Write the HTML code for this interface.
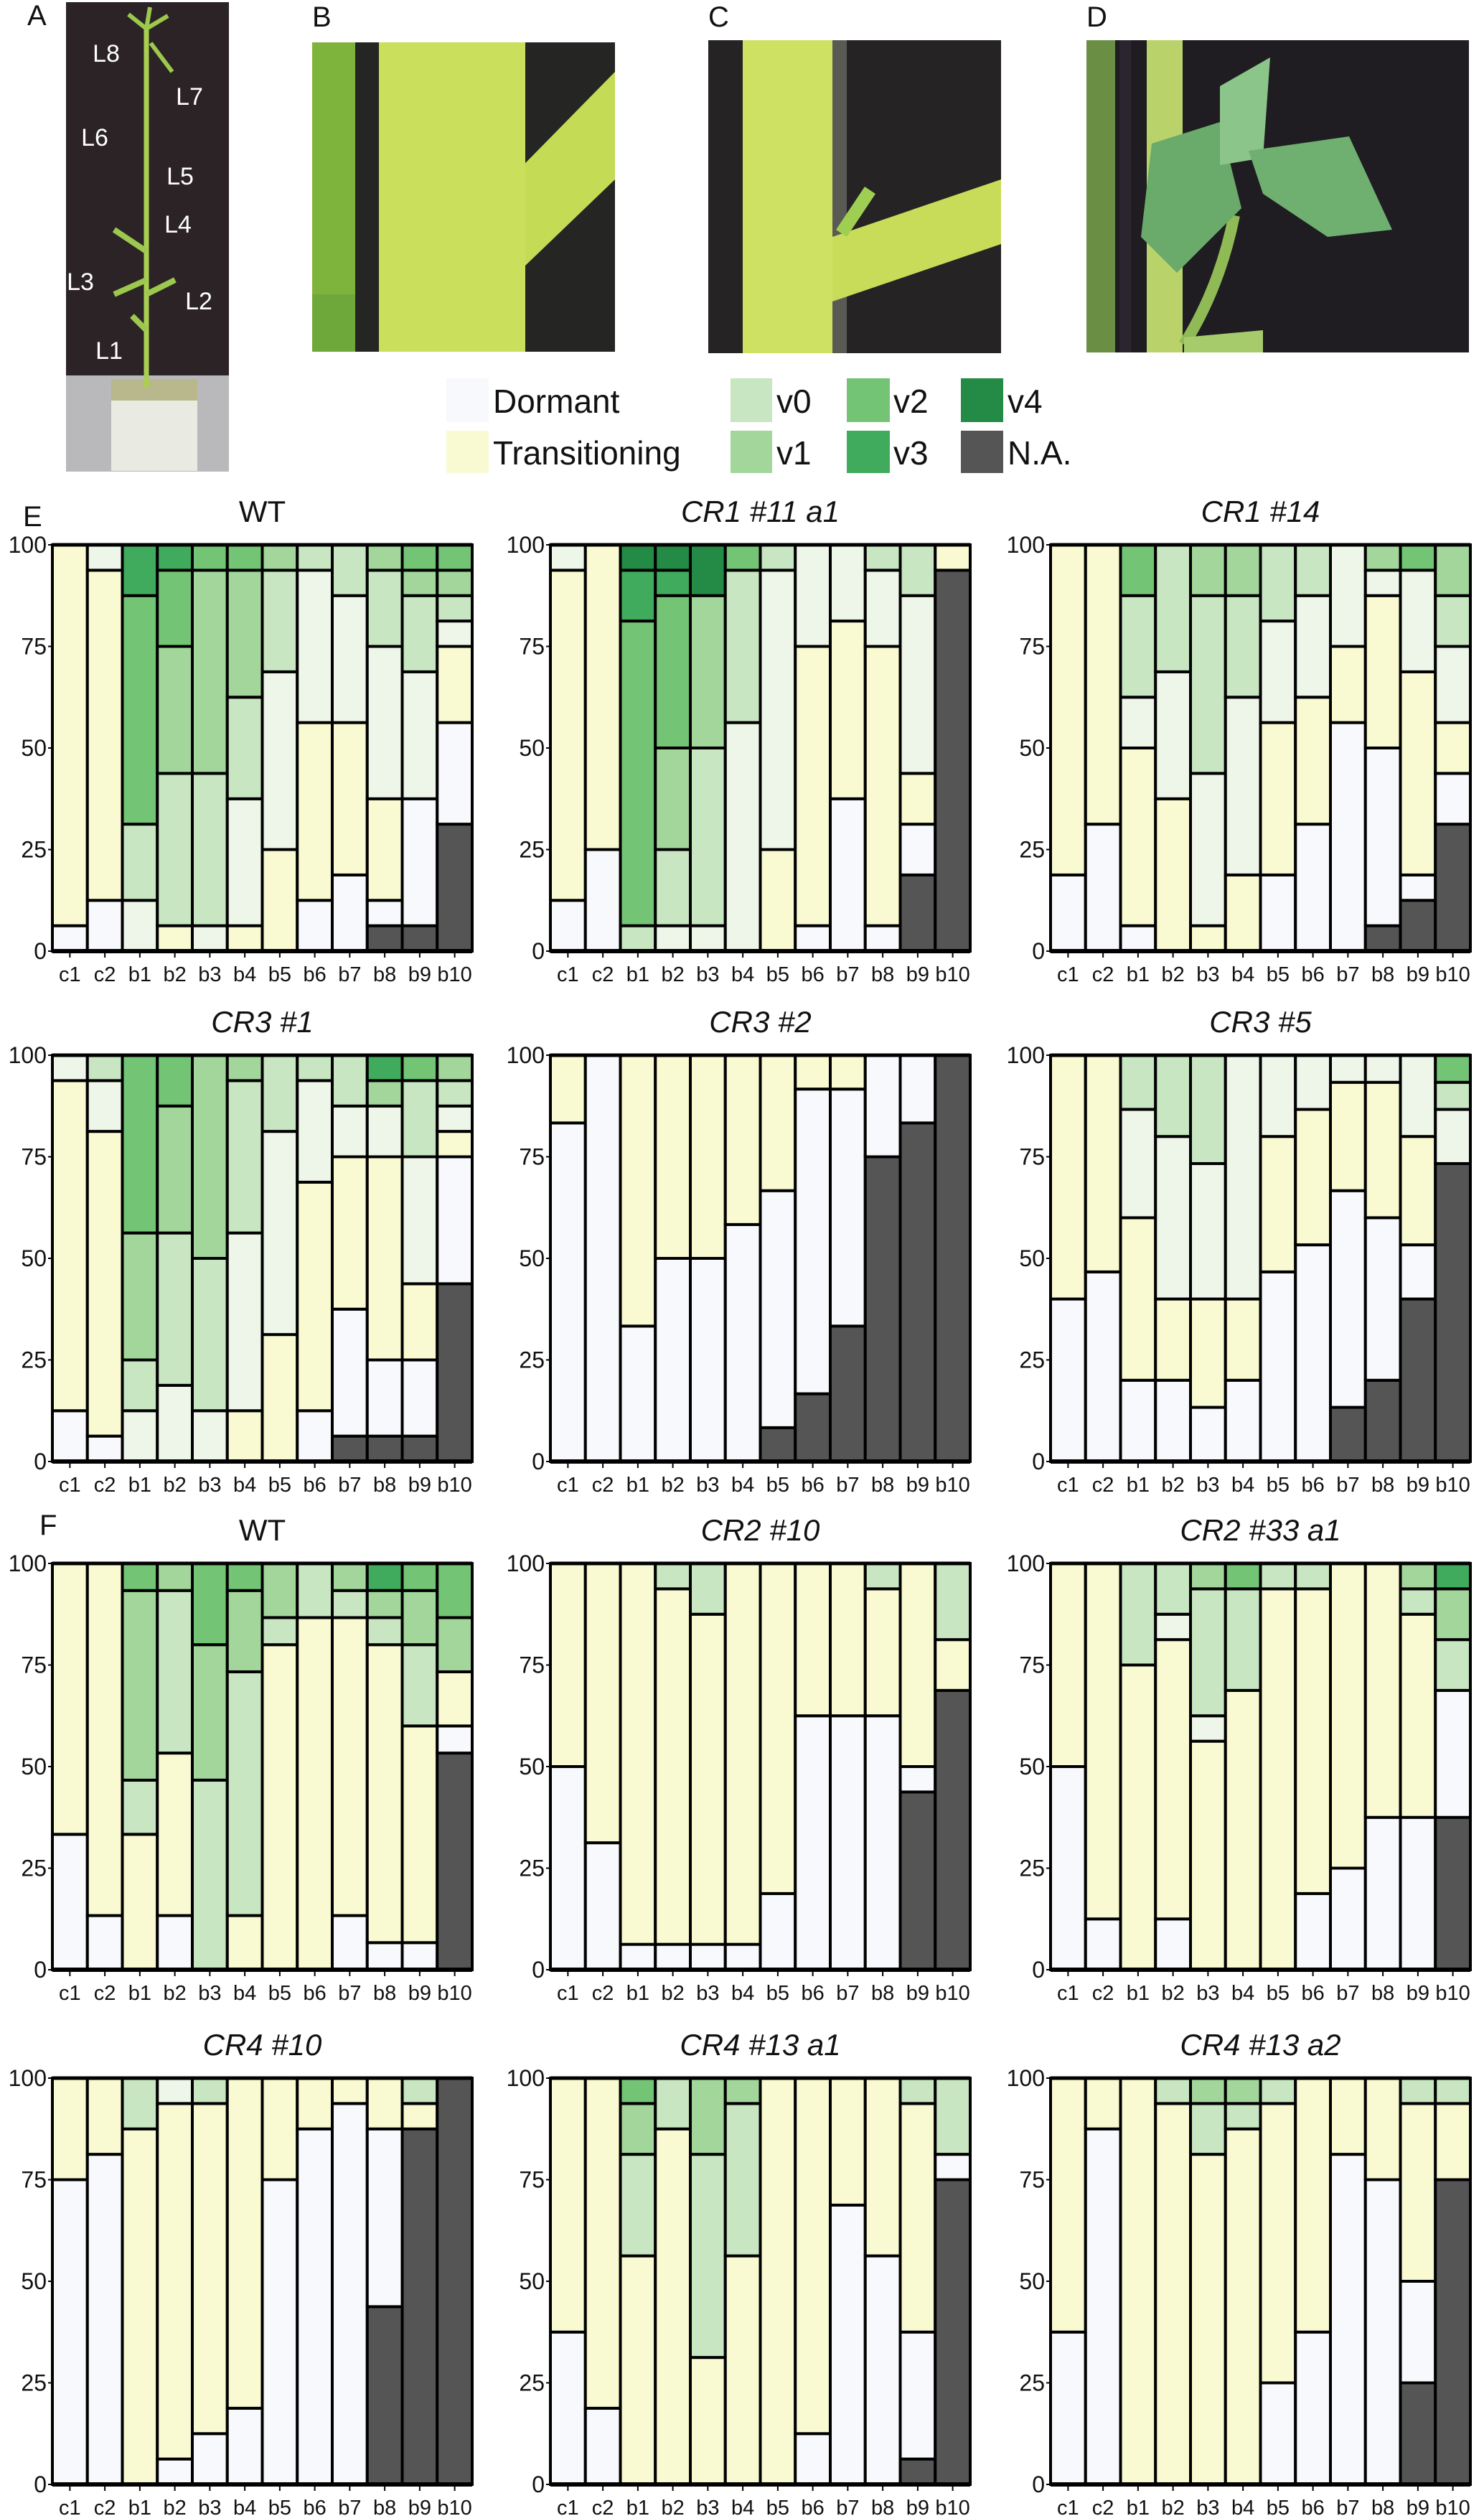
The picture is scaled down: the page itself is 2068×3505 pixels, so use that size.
<!DOCTYPE html>
<html><head><meta charset="utf-8">
<style>
html,body{margin:0;padding:0;background:#fff;}
svg{display:block;font-family:"Liberation Sans",sans-serif;}
</style></head>
<body>
<svg id="fig" width="2068" height="3505" viewBox="0 0 2068 3505" xmlns="http://www.w3.org/2000/svg">
  <!-- Panel A -->
  <g>
    <rect x="92" y="3" width="227" height="522" fill="#2b2326"/>
    <rect x="92" y="523" width="227" height="134" fill="#b9b9bb"/>
    <rect x="155" y="528" width="120" height="128" fill="#e9eae2"/>
    <rect x="155" y="528" width="120" height="30" fill="#b8b88c"/>
    <line x1="204" y1="540" x2="204" y2="40" stroke="#a9cf52" stroke-width="7"/>
    <path d="M204 40 l-25 -20 M204 40 l30 -18 M204 40 l5 -30 M210 60 l30 40" stroke="#9cc84e" stroke-width="6" fill="none"/>
    <path d="M204 350 l-45 -30 M204 390 l-45 20 M204 410 l40 -20 M204 460 l-20 -20" stroke="#9cc84e" stroke-width="8" fill="none"/>
    <g fill="#fff" font-size="34" text-anchor="middle">
      <text x="148" y="86">L8</text>
      <text x="264" y="146">L7</text>
      <text x="132" y="203">L6</text>
      <text x="251" y="257">L5</text>
      <text x="248" y="324">L4</text>
      <text x="112" y="404">L3</text>
      <text x="277" y="431">L2</text>
      <text x="152" y="500">L1</text>
    </g>
  </g>
  <!-- Panel B -->
  <g>
    <rect x="435" y="59" width="422" height="431" fill="#252523"/>
    <rect x="435" y="59" width="60" height="380" fill="#7fb43c"/>
    <path d="M690 270 L857 100 L857 250 L732 370 Z" fill="#c4dc55"/>
    <rect x="528" y="59" width="204" height="431" fill="#cadf5c"/>
    <rect x="435" y="410" width="60" height="80" fill="#6fa83a"/>
  </g>
  <!-- Panel C -->
  <g>
    <rect x="987" y="56" width="408" height="436" fill="#262324"/>
    <rect x="1150" y="56" width="30" height="436" fill="#5a5a55"/>
    <path d="M1160 330 L1395 250 L1395 340 L1160 420 Z" fill="#c8dc5a"/>
    <path d="M1165 320 l40 -60 l15 10 l-40 60 Z" fill="#9fcf52"/>
    <rect x="1035" y="56" width="125" height="436" fill="#cfe163"/>
  </g>
  <!-- Panel D -->
  <g>
    <rect x="1514" y="56" width="533" height="435" fill="#1f1c22"/>
    <rect x="1514" y="56" width="40" height="435" fill="#6b8e45"/>
    <rect x="1560" y="56" width="16" height="435" fill="#2b2530"/>
    <rect x="1598" y="56" width="50" height="435" fill="#b9d36a"/>
    <path d="M1650 480 Q1700 400 1720 300" stroke="#8fba55" stroke-width="16" fill="none"/>
    <path d="M1605 200 L1700 170 L1730 290 L1640 380 L1590 330 Z" fill="#6aaa6a"/>
    <path d="M1700 120 L1770 80 L1760 220 L1700 230 Z" fill="#8cc58a"/>
    <path d="M1740 210 L1880 190 L1940 320 L1850 330 L1760 270 Z" fill="#6faf6f"/>
    <path d="M1650 470 L1760 460 L1760 491 L1650 491 Z" fill="#a6cb6b"/>
  </g>
  <g font-size="40" fill="#111">
    <text x="38" y="35">A</text>
    <text x="435" y="37">B</text>
    <text x="987" y="37">C</text>
    <text x="1514" y="37">D</text>
    <text x="32" y="733">E</text>
    <text x="55" y="2138">F</text>
  </g>
  <!-- Legend -->
  <g font-size="46" fill="#111">
    <g><rect x="622" y="527" width="59" height="61" fill="#f8f9fc"/><text x="687" y="575">Dormant</text></g>
    <g><rect x="622" y="600" width="59" height="59" fill="#fafad2"/><text x="687" y="647">Transitioning</text></g>
    <g><rect x="1018" y="527" width="58" height="61" fill="#c7e6c1"/><text x="1082" y="575">v0</text></g>
    <g><rect x="1018" y="600" width="58" height="59" fill="#a3d69b"/><text x="1082" y="647">v1</text></g>
    <g><rect x="1180" y="527" width="60" height="61" fill="#74c476"/><text x="1245" y="575">v2</text></g>
    <g><rect x="1180" y="600" width="60" height="59" fill="#41ab5d"/><text x="1245" y="647">v3</text></g>
    <g><rect x="1339" y="527" width="59" height="61" fill="#238b45"/><text x="1404" y="575">v4</text></g>
    <g><rect x="1339" y="600" width="59" height="59" fill="#555555"/><text x="1404" y="647">N.A.</text></g>
  </g>
  <g id="charts"></g>
</svg>
<script>
const categories = ["c1","c2","b1","b2","b3","b4","b5","b6","b7","b8","b9","b10"];
const yTicks = [0,25,50,75,100];
// E WT
const eWT_na  = [0,0,0,0,0,0,0,0,0,6.25,6.25,31.25];
const eWT_dor = [6.25,12.5,0,0,0,0,0,12.5,18.75,6.25,31.25,25];
const eWT_tra = [93.75,81.25,0,6.25,0,6.25,25,43.75,37.5,25,0,18.75];
const eWT_g0  = [0,6.25,12.5,0,6.25,31.25,43.75,37.5,31.25,37.5,31.25,6.25];
const eWT_v0  = [0,0,18.75,37.5,37.5,25,25,6.25,12.5,18.75,18.75,6.25];
const eWT_v1  = [0,0,0,31.25,50,31.25,6.25,0,0,6.25,6.25,6.25];
const eWT_v2  = [0,0,56.25,18.75,6.25,6.25,0,0,0,0,6.25,6.25];
const eWT_v3  = [0,0,12.5,6.25,0,0,0,0,0,0,0,0];
// CR1 #11 a1
const cr111_na  = [0,0,0,0,0,0,0,0,0,0,18.75,93.75];
const cr111_dor = [12.5,25,0,0,0,0,0,6.25,37.5,6.25,12.5,0];
const cr111_tra = [81.25,75,0,0,0,0,25,68.75,43.75,68.75,12.5,6.25];
const cr111_g0  = [6.25,0,0,6.25,6.25,56.25,68.75,25,18.75,18.75,43.75,0];
const cr111_v0  = [0,0,6.25,18.75,43.75,37.5,6.25,0,0,6.25,12.5,0];
const cr111_v1  = [0,0,0,25,37.5,0,0,0,0,0,0,0];
const cr111_v2  = [0,0,75,37.5,0,6.25,0,0,0,0,0,0];
const cr111_v3  = [0,0,12.5,6.25,0,0,0,0,0,0,0,0];
const cr111_v4  = [0,0,6.25,6.25,12.5,0,0,0,0,0,0,0];
// CR1 #14
const cr114_na  = [0,0,0,0,0,0,0,0,0,6.25,12.5,31.25];
const cr114_dor = [18.75,31.25,6.25,0,0,0,18.75,31.25,56.25,43.75,6.25,12.5];
const cr114_tra = [81.25,68.75,43.75,37.5,6.25,18.75,37.5,31.25,18.75,37.5,50,12.5];
const cr114_g0  = [0,0,12.5,31.25,37.5,43.75,25,25,25,6.25,25,18.75];
const cr114_v0  = [0,0,25,31.25,43.75,25,18.75,12.5,0,0,0,12.5];
const cr114_v1  = [0,0,0,0,12.5,12.5,0,0,0,6.25,0,12.5];
const cr114_v2  = [0,0,12.5,0,0,0,0,0,0,0,6.25,0];
// CR3 #1
const cr31_na  = [0,0,0,0,0,0,0,0,6.25,6.25,6.25,43.75];
const cr31_dor = [12.5,6.25,0,0,0,0,0,12.5,31.25,18.75,18.75,31.25];
const cr31_tra = [81.25,75,0,0,0,12.5,31.25,56.25,37.5,50,18.75,6.25];
const cr31_g0  = [6.25,12.5,12.5,18.75,12.5,43.75,50,25,12.5,12.5,31.25,6.25];
const cr31_v0  = [0,6.25,12.5,37.5,37.5,37.5,18.75,6.25,12.5,0,18.75,6.25];
const cr31_v1  = [0,0,31.25,31.25,50,6.25,0,0,0,6.25,0,6.25];
const cr31_v2  = [0,0,43.75,12.5,0,0,0,0,0,0,6.25,0];
const cr31_v3  = [0,0,0,0,0,0,0,0,0,6.25,0,0];
// CR3 #2
const cr32_na  = [0,0,0,0,0,0,8.33,16.67,33.33,75,83.33,100];
const cr32_dor = [83.33,100,33.33,50,50,58.33,58.33,75,58.33,25,16.67,0];
const cr32_tra = [16.67,0,66.67,50,50,41.67,33.33,8.33,8.33,0,0,0];
// CR3 #5
const cr35_na  = [0,0,0,0,0,0,0,0,13.33,20,40,73.33];
const cr35_dor = [40,46.67,20,20,13.33,20,46.67,53.33,53.33,40,13.33,0];
const cr35_tra = [60,53.33,40,20,26.67,20,33.33,33.33,26.67,33.33,26.67,0];
const cr35_g0  = [0,0,26.67,40,33.33,60,20,13.33,6.67,6.67,20,13.33];
const cr35_v0  = [0,0,13.33,20,26.67,0,0,0,0,0,0,6.67];
const cr35_v2  = [0,0,0,0,0,0,0,0,0,0,0,6.67];
// F WT
const fWT_na  = [0,0,0,0,0,0,0,0,0,0,0,53.33];
const fWT_dor = [33.33,13.33,0,13.33,0,0,0,0,13.33,6.67,6.67,6.67];
const fWT_tra = [66.67,86.67,33.33,40,0,13.33,80,86.67,73.33,73.33,53.33,13.33];
const fWT_v0  = [0,0,13.33,40,46.67,60,6.67,13.33,6.67,6.67,20,0];
const fWT_v1  = [0,0,46.67,6.67,33.33,20,13.33,0,6.67,6.67,13.33,13.33];
const fWT_v2  = [0,0,6.67,0,20,6.67,0,0,0,0,6.67,13.33];
const fWT_v3  = [0,0,0,0,0,0,0,0,0,6.67,0,0];
// CR2 #10
const cr210_na  = [0,0,0,0,0,0,0,0,0,0,43.75,68.75];
const cr210_dor = [50,31.25,6.25,6.25,6.25,6.25,18.75,62.5,62.5,62.5,6.25,0];
const cr210_tra = [50,68.75,93.75,87.5,81.25,93.75,81.25,37.5,37.5,31.25,50,12.5];
const cr210_v0  = [0,0,0,6.25,12.5,0,0,0,0,6.25,0,18.75];
// CR2 #33 a1
const cr233_na  = [0,0,0,0,0,0,0,0,0,0,0,37.5];
const cr233_dor = [50,12.5,0,12.5,0,0,0,18.75,25,37.5,37.5,31.25];
const cr233_tra = [50,87.5,75,68.75,56.25,68.75,93.75,75,75,62.5,50,0];
const cr233_g0  = [0,0,0,6.25,6.25,0,0,0,0,0,0,0];
const cr233_v0  = [0,0,25,12.5,31.25,25,6.25,6.25,0,0,6.25,12.5];
const cr233_v1  = [0,0,0,0,6.25,0,0,0,0,0,6.25,12.5];
const cr233_v2  = [0,0,0,0,0,6.25,0,0,0,0,0,0];
const cr233_v3  = [0,0,0,0,0,0,0,0,0,0,0,6.25];
// CR4 #10
const cr410_na  = [0,0,0,0,0,0,0,0,0,43.75,87.5,100];
const cr410_dor = [75,81.25,0,6.25,12.5,18.75,75,87.5,93.75,43.75,0,0];
const cr410_tra = [25,18.75,87.5,87.5,81.25,81.25,25,12.5,6.25,12.5,6.25,0];
const cr410_g0  = [0,0,0,6.25,0,0,0,0,0,0,0,0];
const cr410_v0  = [0,0,12.5,0,6.25,0,0,0,0,0,6.25,0];
// CR4 #13 a1
const cr4131_na  = [0,0,0,0,0,0,0,0,0,0,6.25,75];
const cr4131_dor = [37.5,18.75,0,0,0,0,0,12.5,68.75,56.25,31.25,6.25];
const cr4131_tra = [62.5,81.25,56.25,87.5,31.25,56.25,100,87.5,31.25,43.75,56.25,0];
const cr4131_v0  = [0,0,25,12.5,50,37.5,0,0,0,0,6.25,18.75];
const cr4131_v1  = [0,0,12.5,0,18.75,6.25,0,0,0,0,0,0];
const cr4131_v2  = [0,0,6.25,0,0,0,0,0,0,0,0,0];
// CR4 #13 a2
const cr4132_na  = [0,0,0,0,0,0,0,0,0,0,25,75];
const cr4132_dor = [37.5,87.5,0,0,0,0,25,37.5,81.25,75,25,0];
const cr4132_tra = [62.5,12.5,100,93.75,81.25,87.5,68.75,62.5,18.75,25,43.75,18.75];
const cr4132_v0  = [0,0,0,6.25,12.5,6.25,6.25,0,0,0,6.25,6.25];
const cr4132_v1  = [0,0,0,0,6.25,6.25,0,0,0,0,0,0];

const colors = {na:"#555555",dor:"#f8f9fc",tra:"#fafad2",g0:"#eef6e9",v0:"#c7e6c1",v1:"#a3d69b",v2:"#74c476",v3:"#41ab5d",v4:"#238b45"};
const order = ["na","dor","tra","g0","v0","v1","v2","v3","v4"];

const charts = [
 {id:"e-wt",title:"WT",it:false,col:0,row:0,s:{na:eWT_na,dor:eWT_dor,tra:eWT_tra,g0:eWT_g0,v0:eWT_v0,v1:eWT_v1,v2:eWT_v2,v3:eWT_v3}},
 {id:"cr1-11-a1",title:"CR1 #11 a1",it:true,col:1,row:0,s:{na:cr111_na,dor:cr111_dor,tra:cr111_tra,g0:cr111_g0,v0:cr111_v0,v1:cr111_v1,v2:cr111_v2,v3:cr111_v3,v4:cr111_v4}},
 {id:"cr1-14",title:"CR1 #14",it:true,col:2,row:0,s:{na:cr114_na,dor:cr114_dor,tra:cr114_tra,g0:cr114_g0,v0:cr114_v0,v1:cr114_v1,v2:cr114_v2}},
 {id:"cr3-1",title:"CR3 #1",it:true,col:0,row:1,s:{na:cr31_na,dor:cr31_dor,tra:cr31_tra,g0:cr31_g0,v0:cr31_v0,v1:cr31_v1,v2:cr31_v2,v3:cr31_v3}},
 {id:"cr3-2",title:"CR3 #2",it:true,col:1,row:1,s:{na:cr32_na,dor:cr32_dor,tra:cr32_tra}},
 {id:"cr3-5",title:"CR3 #5",it:true,col:2,row:1,s:{na:cr35_na,dor:cr35_dor,tra:cr35_tra,g0:cr35_g0,v0:cr35_v0,v2:cr35_v2}},
 {id:"f-wt",title:"WT",it:false,col:0,row:2,s:{na:fWT_na,dor:fWT_dor,tra:fWT_tra,v0:fWT_v0,v1:fWT_v1,v2:fWT_v2,v3:fWT_v3}},
 {id:"cr2-10",title:"CR2 #10",it:true,col:1,row:2,s:{na:cr210_na,dor:cr210_dor,tra:cr210_tra,v0:cr210_v0}},
 {id:"cr2-33-a1",title:"CR2 #33 a1",it:true,col:2,row:2,s:{na:cr233_na,dor:cr233_dor,tra:cr233_tra,g0:cr233_g0,v0:cr233_v0,v1:cr233_v1,v2:cr233_v2,v3:cr233_v3}},
 {id:"cr4-10",title:"CR4 #10",it:true,col:0,row:3,s:{na:cr410_na,dor:cr410_dor,tra:cr410_tra,g0:cr410_g0,v0:cr410_v0}},
 {id:"cr4-13-a1",title:"CR4 #13 a1",it:true,col:1,row:3,s:{na:cr4131_na,dor:cr4131_dor,tra:cr4131_tra,v0:cr4131_v0,v1:cr4131_v1,v2:cr4131_v2}},
 {id:"cr4-13-a2",title:"CR4 #13 a2",it:true,col:2,row:3,s:{na:cr4132_na,dor:cr4132_dor,tra:cr4132_tra,v0:cr4132_v0,v1:cr4132_v1}}
];

const NS="http://www.w3.org/2000/svg";
const colX=[73,767,1464], rowY=[759,1470,2178,2895];
const PW=585, PH=566;
function mk(tag,attrs,parent){const e=document.createElementNS(NS,tag);for(const k in attrs)e.setAttribute(k,attrs[k]);parent.appendChild(e);return e;}
const root=document.getElementById("charts");
charts.forEach(c=>{
  const x0=colX[c.col], y0=rowY[c.row];
  const bw=PW/categories.length;
  const xs=i=>x0+i*bw;
  const ys=v=>y0+PH-(v/100)*PH;
  const g=mk("g",{},root);
  
  
  const t=mk("text",{x:x0+PW/2,y:y0-32,"text-anchor":"middle","font-size":"42","font-style":c.it?"italic":"normal",fill:"#111"},g);
  t.textContent=c.title;
  
  
  categories.forEach((cat,i)=>{
    let cum=0;
    const bg=mk("g",{},g);
    
    
    order.forEach(k=>{
      const arr=c.s[k]; if(!arr) return;
      const v=arr[i]; if(!v) return;
      const r=mk("rect",{x:xs(i),y:ys(cum+v),width:bw,height:ys(cum)-ys(cum+v),fill:colors[k],stroke:"#000","stroke-width":"4"},bg);
      
      
      cum+=v;
    });
    const tk=mk("line",{x1:xs(i)+bw/2,x2:xs(i)+bw/2,y1:y0+PH,y2:y0+PH+9,stroke:"#000","stroke-width":"2"},g);
    
    
    const lb=mk("text",{x:xs(i)+bw/2,y:y0+PH+42,"text-anchor":"middle","font-size":"29",fill:"#111"},g);
    lb.textContent=cat;
    
    
  });
  const bt=mk("line",{x1:x0,x2:x0+PW,y1:y0+PH,y2:y0+PH,stroke:"#000","stroke-width":"6"},g);
  
  
  const tp=mk("line",{x1:x0,x2:x0+PW,y1:y0,y2:y0,stroke:"#000","stroke-width":"5"},g);
  
  
  yTicks.forEach(v=>{
    const yl=mk("line",{x1:x0-6,x2:x0,y1:ys(v),y2:ys(v),stroke:"#000","stroke-width":"2"},g);
    
    
    const yt=mk("text",{x:x0-8,y:ys(v)+11,"text-anchor":"end","font-size":"32",fill:"#111"},g);
    yt.textContent=v;
    
    
  });
});
</script>
</body></html>
